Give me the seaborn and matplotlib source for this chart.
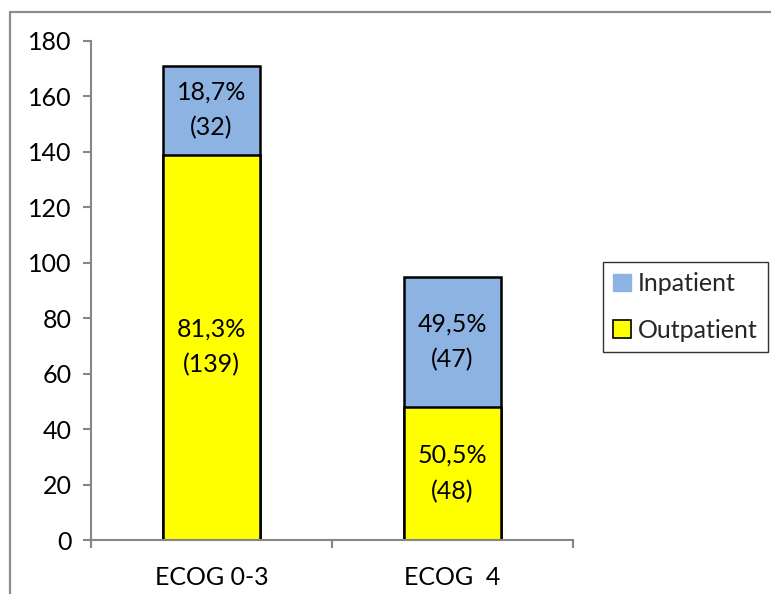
import matplotlib
matplotlib.use("Agg")
import matplotlib.pyplot as plt
from matplotlib.patches import Patch
from matplotlib.lines import Line2D
import seaborn as sns
import pandas as pd

categories = ["ECOG 0-3", "ECOG  4"]
outpatient = [139, 48]
inpatient = [32, 47]
yticks = [0, 20, 40, 60, 80, 100, 120, 140, 160, 180]

BLUE = "#8DB3E2"
YELLOW = "#FFFF00"
GRAY = "#868686"

sns.set_theme(style="white")
plt.rcParams["font.family"] = ["Lato", "DejaVu Sans"]
FS = 18

df = pd.DataFrame({
    "group": categories,
    "outpatient": outpatient,
    "inpatient": inpatient,
})
df["total"] = df["outpatient"] + df["inpatient"]

fig = plt.figure(figsize=(7.71, 5.94), dpi=100)
ax = fig.add_axes([91 / 771, 1 - 540 / 594, (573 - 91) / 771, (540 - 41) / 594])

# stacked bars: total in blue, outpatient drawn over it in yellow
sns.barplot(data=df, x="group", y="total", color=BLUE, saturation=1,
            width=0.4, edgecolor="black", linewidth=1.8, ax=ax)
sns.barplot(data=df, x="group", y="outpatient", color=YELLOW, saturation=1,
            width=0.4, edgecolor="black", linewidth=1.8, ax=ax)

for i, row in df.iterrows():
    out_pct = 100 * row["outpatient"] / row["total"]
    in_pct = 100 * row["inpatient"] / row["total"]
    ax.text(i, row["outpatient"] / 2, f"{out_pct:.1f}%".replace(".", ",") + f"\n({row['outpatient']})",
            ha="center", va="center", fontsize=FS, color="black", linespacing=1.65)
    ax.text(i, row["outpatient"] + row["inpatient"] / 2,
            f"{in_pct:.1f}%".replace(".", ",") + f"\n({row['inpatient']})",
            ha="center", va="center", fontsize=FS, color="black", linespacing=1.65)

ax.set_xlim(-0.5, 1.5)
ax.set_ylim(0, 180)
ax.set_yticks(yticks)
ax.set_yticklabels([str(t) for t in yticks], fontsize=FS)
ax.set_xticks(range(len(categories)))
ax.set_xticklabels(categories, fontsize=FS)
ax.set_xticks([-0.5, 0.5, 1.5], minor=True)
ax.set_xlabel("")
ax.set_ylabel("")

for side in ("top", "right"):
    ax.spines[side].set_visible(False)
for side in ("left", "bottom"):
    ax.spines[side].set_color(GRAY)
    ax.spines[side].set_linewidth(1.5)

ax.tick_params(axis="y", which="major", direction="out", length=6, width=1.5,
               color=GRAY, left=True, pad=8, labelcolor="black")
ax.tick_params(axis="x", which="major", length=0, pad=19, labelcolor="black")
ax.tick_params(axis="x", which="minor", direction="out", length=6, width=1.5,
               color=GRAY, bottom=True)

handles = [
    Patch(facecolor=BLUE, edgecolor=BLUE, label="Inpatient"),
    Patch(facecolor=YELLOW, edgecolor="black", linewidth=1.2, label="Outpatient"),
]
leg = fig.legend(handles=handles, loc="upper left",
                 bbox_to_anchor=(603 / 771, 1 - 262 / 594),
                 fontsize=FS, frameon=True, fancybox=False,
                 handlelength=0.7, handleheight=0.7, handletextpad=0.3,
                 labelspacing=0.95, borderpad=0.4, borderaxespad=0)
leg.get_frame().set_edgecolor("black")
leg.get_frame().set_linewidth(1.0)

# outer frame of the chart area
fig.add_artist(Line2D([9.5 / 771, 1], [1 - 11.5 / 594, 1 - 11.5 / 594],
                      transform=fig.transFigure, color="#8C8C8C", linewidth=1.6))
fig.add_artist(Line2D([9.5 / 771, 9.5 / 771], [0, 1 - 11.5 / 594],
                      transform=fig.transFigure, color="#8C8C8C", linewidth=1.6))

fig.savefig("out.png", dpi=100, facecolor="white")
